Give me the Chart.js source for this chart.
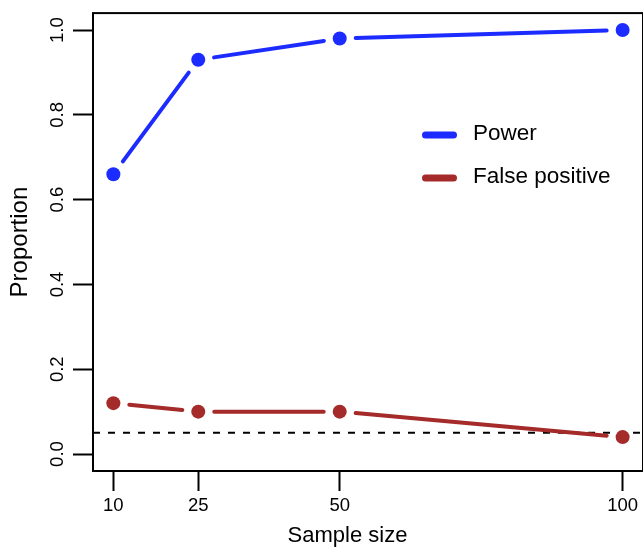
<!DOCTYPE html>
<html>
<head>
<meta charset="utf-8">
<script src="https://cdn.jsdelivr.net/npm/chart.js@4.4.1/dist/chart.umd.min.js"></script>
<style>
  html, body { margin: 0; padding: 0; background: #fff; overflow: hidden; }
</style>
</head>
<body>
<canvas id="chart" width="650" height="549"></canvas>
<script>
// Data
const sampleSizes = [10, 25, 50, 100];
const power = [0.66, 0.93, 0.98, 1.0];
const falsePositive = [0.12, 0.10, 0.10, 0.04];
const alphaLevel = 0.05;

// Axis ticks and limits (R style 4% padding)
const xTicks = [10, 25, 50, 100];
const yTicks = [0, 0.2, 0.4, 0.6, 0.8, 1.0];
const xLimits = [6.4, 103.6];
const yLimits = [-0.04, 1.04];

const blue = '#1c2bff';
const brown = '#a52a2a';
const fontFamily = '"Liberation Sans", Arial, Helvetica, sans-serif';

// Box around the plot region
const plotBox = {
  id: 'plotBox',
  afterDraw(chart) {
    const { ctx, chartArea: a } = chart;
    ctx.save();
    ctx.strokeStyle = '#000';
    ctx.lineWidth = 2;
    ctx.strokeRect(a.left, a.top, a.right - a.left, a.bottom - a.top);
    ctx.restore();
  }
};

// Lines between points with a gap around each point (like R type = "b")
const gappedLines = {
  id: 'gappedLines',
  afterDatasetsDraw(chart) {
    const ctx = chart.ctx;
    const gap = 16;
    chart.data.datasets.forEach((ds, i) => {
      if (!ds.gapLine) return;
      const pts = chart.getDatasetMeta(i).data;
      ctx.save();
      ctx.strokeStyle = ds.pointBackgroundColor;
      ctx.lineWidth = 4;
      ctx.lineCap = 'round';
      for (let k = 0; k < pts.length - 1; k++) {
        const a = pts[k];
        const b = pts[k + 1];
        const dx = b.x - a.x;
        const dy = b.y - a.y;
        const len = Math.hypot(dx, dy);
        if (len <= 2 * gap) continue;
        const ux = dx / len;
        const uy = dy / len;
        ctx.beginPath();
        ctx.moveTo(a.x + ux * gap, a.y + uy * gap);
        ctx.lineTo(b.x - ux * gap, b.y - uy * gap);
        ctx.stroke();
      }
      ctx.restore();
    });
  }
};

// Legend inside the plot and the x axis title, R style
const plotText = {
  id: 'plotText',
  afterDraw(chart) {
    const ctx = chart.ctx;
    const items = chart.data.datasets.filter(ds => ds.gapLine);
    ctx.save();
    ctx.font = '22.5px ' + fontFamily;
    ctx.textBaseline = 'middle';
    ctx.textAlign = 'left';
    items.forEach((ds, i) => {
      const y = 135 + i * 43;
      ctx.strokeStyle = ds.pointBackgroundColor;
      ctx.lineWidth = 7;
      ctx.lineCap = 'round';
      ctx.beginPath();
      ctx.moveTo(425.5, y);
      ctx.lineTo(453.5, y);
      ctx.stroke();
      ctx.fillStyle = '#000';
      ctx.fillText(ds.label, 473, y - 1);
    });

    ctx.font = '22px ' + fontFamily;
    ctx.textAlign = 'center';
    ctx.fillText('Sample size', 347.5, 535.5);
    ctx.restore();
  }
};

const ctx = document.getElementById('chart');

const chart = new Chart(ctx, {
  type: 'scatter',
  data: {
    datasets: [
      {
        label: 'Power',
        data: sampleSizes.map((x, i) => ({ x: x, y: power[i] })),
        gapLine: true,
        showLine: false,
        pointRadius: 7,
        pointHoverRadius: 7,
        pointBorderWidth: 0,
        pointBorderColor: blue,
        pointBackgroundColor: blue,
        order: 1
      },
      {
        label: 'False positive',
        data: sampleSizes.map((x, i) => ({ x: x, y: falsePositive[i] })),
        gapLine: true,
        showLine: false,
        pointRadius: 7,
        pointHoverRadius: 7,
        pointBorderWidth: 0,
        pointBorderColor: brown,
        pointBackgroundColor: brown,
        order: 2
      },
      {
        label: 'alpha',
        data: [{ x: xLimits[0], y: alphaLevel }, { x: xLimits[1], y: alphaLevel }],
        showLine: true,
        borderColor: '#000',
        borderWidth: 2,
        borderDash: [7, 8],
        pointRadius: 0,
        order: 3
      }
    ]
  },
  options: {
    responsive: false,
    devicePixelRatio: 1,
    animation: false,
    events: [],
    layout: {
      padding: { top: 12, right: 5, bottom: 0, left: 0 }
    },
    plugins: {
      legend: { display: false },
      tooltip: { enabled: false }
    },
    scales: {
      x: {
        type: 'linear',
        min: xLimits[0],
        max: xLimits[1],
        afterBuildTicks: scale => { scale.ticks = xTicks.map(v => ({ value: v })); },
        afterFit: scale => { scale.height = 78; },
        border: { display: false },
        grid: {
          drawOnChartArea: false,
          drawTicks: true,
          tickLength: 20,
          color: '#000',
          tickColor: '#000',
          tickWidth: 2
        },
        ticks: {
          autoSkip: false,
          maxRotation: 0,
          padding: 4,
          color: '#000',
          font: { family: fontFamily, size: 18.5 },
          callback: v => String(v)
        },
        title: { display: false }
      },
      y: {
        type: 'linear',
        min: yLimits[0],
        max: yLimits[1],
        afterBuildTicks: scale => { scale.ticks = yTicks.map(v => ({ value: v })); },
        afterFit: scale => { scale.width = 93; },
        border: { display: false },
        grid: {
          drawOnChartArea: false,
          drawTicks: true,
          tickLength: 20,
          color: '#000',
          tickColor: '#000',
          tickWidth: 2
        },
        ticks: {
          minRotation: 90,
          maxRotation: 90,
          crossAlign: 'center',
          padding: 2,
          color: '#000',
          font: { family: fontFamily, size: 18.5 },
          callback: v => v.toFixed(1)
        },
        title: {
          display: true,
          text: 'Proportion',
          color: '#000',
          font: { family: fontFamily, size: 24 },
          padding: { top: 6, bottom: 0 }
        }
      }
    }
  },
  plugins: [plotBox, gappedLines, plotText]
});
</script>
</body>
</html>
